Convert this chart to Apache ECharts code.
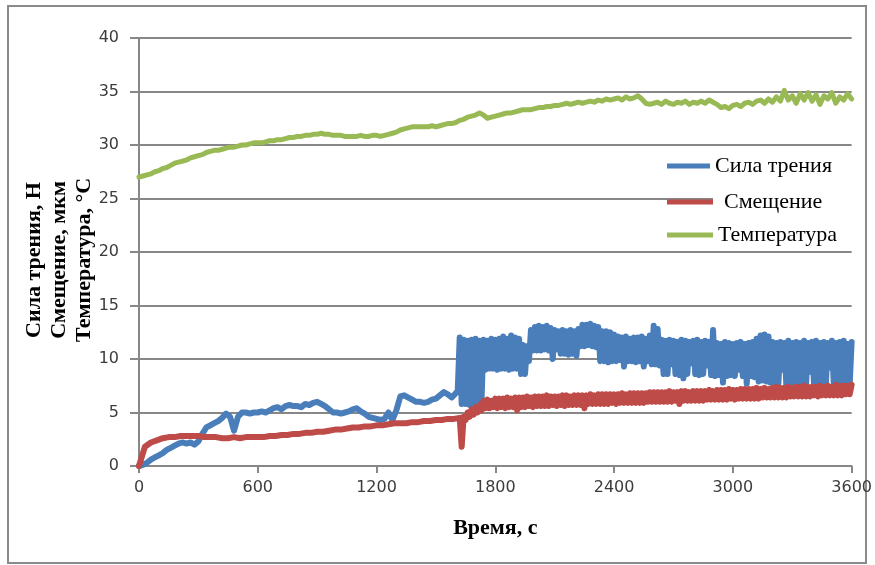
<!DOCTYPE html>
<html><head><meta charset="utf-8">
<script src="https://cdn.jsdelivr.net/npm/echarts@6/dist/echarts.min.js"></script>
<style>html,body{margin:0;padding:0;background:#fff}#c{width:875px;height:565px}</style>
</head><body><div id="c"></div>
<script>
const seriesNames = ['Сила трения', 'Смещение', 'Температура'];
const xTitle = 'Время, с';
const yTitle = 'Сила трения, Н\nСмещение, мкм\nТемпература, °С';

// Сила трения (N): 0..1600 s every 20 s
const forceEarlyStart = 0, forceEarlyStep = 20;
const forceEarly = [
  0.0, 0.1, 0.3, 0.6, 0.8, 1.0, 1.2, 1.5, 1.7, 1.9,
  2.1, 2.2, 2.1, 2.2, 2.0, 2.3, 3.0, 3.6, 3.8, 4.0,
  4.2, 4.5, 4.9, 4.6, 3.3, 4.6, 5.0, 5.0, 4.9, 5.0,
  5.0, 5.1, 5.0, 5.2, 5.4, 5.5, 5.3, 5.6, 5.7, 5.6,
  5.6, 5.5, 5.8, 5.7, 5.9, 6.0, 5.8, 5.6, 5.3, 5.0,
  5.0, 4.9, 5.0, 5.1, 5.3, 5.4, 5.1, 4.9, 4.6, 4.5,
  4.4, 4.3, 4.4, 5.0, 4.3, 5.2, 6.5, 6.6, 6.4, 6.2,
  6.0, 6.0, 5.9, 6.0, 6.2, 6.3, 6.6, 6.9, 6.7, 6.4,
  6.8
];
// Сила трения (N): 1610..3600 s every 10 s (noisy band: low / high readings)
const forceLateStart = 1610, forceLateStep = 10;
const forceLate = [
  7.0, 12.0, 5.8, 11.8, 5.8, 11.7, 5.7, 11.8, 5.8, 11.9,
  5.8, 11.7, 5.9, 11.8, 9.0, 11.7, 9.1, 11.9, 9.1, 11.8,
  9.0, 11.9, 9.1, 12.1, 9.1, 11.9, 9.0, 12.2, 9.1, 12.0,
  9.1, 11.9, 8.6, 11.3, 8.6, 11.2, 9.8, 12.7, 10.8, 13.0,
  10.8, 13.1, 10.8, 13.0, 10.9, 13.1, 10.8, 12.9, 10.0, 12.7,
  10.9, 12.6, 10.5, 12.7, 10.5, 12.6, 10.4, 12.7, 10.5, 12.6,
  10.3, 12.8, 11.2, 13.2, 11.2, 13.2, 11.3, 13.3, 11.2, 13.1,
  11.1, 13.0, 9.8, 12.6, 9.8, 12.6, 9.7, 12.5, 9.8, 12.3,
  9.8, 12.1, 9.9, 12.0, 9.3, 12.1, 9.8, 11.9, 9.8, 12.0,
  9.7, 12.0, 9.8, 12.1, 9.3, 11.9, 9.8, 12.2, 9.5, 13.1,
  9.5, 12.8, 9.4, 11.8, 8.6, 11.7, 8.6, 11.8, 9.5, 11.7,
  8.6, 11.6, 8.5, 11.8, 8.2, 11.7, 8.6, 11.6, 9.6, 11.7,
  8.6, 11.8, 8.5, 11.6, 8.6, 11.7, 9.4, 11.6, 8.5, 12.7,
  8.4, 11.5, 8.5, 11.4, 7.8, 11.6, 8.4, 11.5, 8.5, 11.4,
  8.4, 11.5, 9.0, 11.6, 8.4, 11.4, 7.7, 11.5, 8.4, 11.6,
  8.3, 11.9, 7.9, 12.2, 8.0, 12.3, 7.9, 12.1, 7.8, 11.6,
  7.7, 11.5, 7.7, 11.6, 9.0, 11.5, 7.6, 11.7, 7.6, 11.5,
  7.7, 11.6, 7.4, 11.5, 7.7, 11.7, 7.7, 11.5, 8.8, 11.6,
  7.6, 11.7, 7.6, 11.5, 7.5, 11.6, 7.7, 11.5, 9.2, 11.7,
  7.6, 11.5, 7.5, 11.6, 7.6, 11.7, 7.5, 11.4, 7.6, 11.6
];

// Смещение (µm): 0..1620 s every 30 s
const shiftEarlyStart = 0, shiftEarlyStep = 30;
const shiftEarly = [
  0.0, 1.8, 2.2, 2.4, 2.6, 2.7, 2.7, 2.8, 2.8, 2.8,
  2.8, 2.7, 2.7, 2.7, 2.6, 2.6, 2.7, 2.6, 2.7, 2.7,
  2.7, 2.7, 2.8, 2.8, 2.9, 2.9, 3.0, 3.0, 3.1, 3.1,
  3.2, 3.2, 3.3, 3.4, 3.4, 3.5, 3.6, 3.6, 3.7, 3.7,
  3.8, 3.8, 3.9, 4.0, 4.0, 4.0, 4.1, 4.1, 4.2, 4.2,
  4.3, 4.3, 4.4, 4.4, 4.5
];
// Смещение (µm): 1630..3600 s every 10 s (low / high readings)
const shiftLateStart = 1630, shiftLateStep = 10;
const shiftLate = [
  1.8, 4.6, 4.3, 5.0, 4.6, 5.3, 4.8, 5.5, 5.0, 5.7,
  5.2, 6.1, 5.4, 6.2, 5.4, 6.1, 5.5, 6.3, 5.4, 6.3,
  5.5, 6.3, 5.4, 6.4, 5.5, 6.3, 5.5, 6.4, 5.2, 6.4,
  5.5, 6.4, 5.5, 6.5, 5.6, 6.4, 5.5, 6.5, 5.6, 6.5,
  5.6, 6.5, 5.6, 6.6, 5.6, 6.5, 5.7, 6.5, 5.6, 6.5,
  5.7, 6.6, 5.6, 6.6, 5.7, 6.5, 5.7, 6.6, 5.7, 6.6,
  5.7, 6.6, 5.4, 6.6, 5.8, 6.7, 5.8, 6.6, 5.8, 6.7,
  5.8, 6.7, 5.8, 6.7, 5.8, 6.7, 5.9, 6.7, 5.8, 6.7,
  5.9, 6.8, 5.9, 6.7, 5.9, 6.8, 5.9, 6.8, 5.9, 6.8,
  5.9, 6.8, 5.9, 6.8, 6.0, 6.9, 6.0, 6.9, 6.0, 6.9,
  6.0, 6.9, 6.0, 6.9, 6.0, 7.0, 6.0, 6.9, 6.1, 6.9,
  5.8, 7.0, 6.1, 7.0, 6.1, 6.9, 6.1, 7.0, 6.1, 7.0,
  6.1, 7.0, 6.1, 7.0, 6.2, 7.1, 6.2, 7.0, 6.2, 7.1,
  6.2, 7.1, 6.2, 7.1, 6.2, 7.2, 6.3, 7.1, 6.2, 7.1,
  6.3, 7.2, 6.3, 7.2, 6.3, 7.2, 6.3, 7.2, 6.3, 7.3,
  6.3, 7.2, 6.4, 7.3, 6.4, 7.2, 6.4, 7.3, 6.4, 7.4,
  6.4, 7.3, 6.4, 7.3, 6.4, 7.4, 6.5, 7.3, 6.5, 7.4,
  6.5, 7.4, 6.5, 7.5, 6.5, 7.4, 6.5, 7.4, 6.6, 7.4,
  6.5, 7.5, 6.6, 7.4, 6.6, 7.5, 6.6, 7.4, 6.6, 7.6,
  6.6, 7.5, 6.6, 7.5, 6.7, 7.5, 6.7, 7.6
];

// Температура (°C): 0..3600 s every 20 s
const tempStart = 0, tempStep = 20;
const temperature = [
  27.0, 27.1, 27.2, 27.3, 27.5, 27.6, 27.8, 27.9, 28.1, 28.3,
  28.4, 28.5, 28.6, 28.8, 28.9, 29.0, 29.1, 29.3, 29.4, 29.5,
  29.5, 29.6, 29.7, 29.8, 29.8, 29.9, 30.0, 30.0, 30.1, 30.2,
  30.2, 30.2, 30.3, 30.4, 30.4, 30.5, 30.5, 30.6, 30.7, 30.7,
  30.8, 30.8, 30.9, 30.9, 31.0, 31.0, 31.1, 31.0, 31.0, 30.9,
  30.9, 30.9, 30.8, 30.8, 30.8, 30.8, 30.9, 30.8, 30.8, 30.9,
  30.9, 30.8, 30.9, 31.0, 31.1, 31.2, 31.4, 31.5, 31.6, 31.7,
  31.7, 31.7, 31.7, 31.7, 31.8, 31.7, 31.8, 31.9, 32.0, 32.0,
  32.1, 32.3, 32.4, 32.6, 32.7, 32.8, 33.0, 32.8, 32.5, 32.6,
  32.7, 32.8, 32.9, 33.0, 33.0, 33.1, 33.2, 33.3, 33.3, 33.3,
  33.4, 33.5, 33.5, 33.6, 33.6, 33.7, 33.7, 33.8, 33.9, 33.8,
  33.9, 34.0, 33.9, 34.0, 34.1, 34.0, 34.2, 34.1, 34.3, 34.2,
  34.3, 34.4, 34.2, 34.5, 34.3, 34.4, 34.6, 34.3, 33.9, 33.8,
  33.9, 34.0, 33.8, 34.1, 33.9, 33.8, 34.0, 33.9, 34.1, 33.8,
  34.0, 33.9, 34.1, 33.9, 34.2, 34.0, 33.8, 33.5, 33.6, 33.4,
  33.7, 33.8, 33.6, 33.9, 34.0, 33.8, 34.1, 34.2, 33.9, 34.3,
  34.0, 34.5, 34.1, 35.1, 34.2, 34.6, 33.9, 34.8, 34.2, 34.9,
  34.1, 34.7, 33.8, 34.6, 34.3, 34.9, 33.9, 34.5, 34.2, 34.8,
  34.3
];

const xMin = 0, xMax = 3600, xInterval = 600;
const yMin = 0, yMax = 40, yInterval = 5;

const colors = ['#4a7ebb', '#be4b48', '#98b954'];

function pairs(start, step, vals) { return vals.map((v, i) => [start + i * step, v]); }
// envelope between consecutive readings of a noisy record: [t, low, high]
function envelope(start, step, vals) {
  const out = [];
  for (let i = 0; i < vals.length - 1; i++) {
    out.push([start + i * step, Math.min(vals[i], vals[i + 1]), Math.max(vals[i], vals[i + 1])]);
  }
  return out;
}

const forceData = pairs(forceEarlyStart, forceEarlyStep, forceEarly).concat(pairs(forceLateStart, forceLateStep, forceLate));
const shiftData = pairs(shiftEarlyStart, shiftEarlyStep, shiftEarly).concat(pairs(shiftLateStart, shiftLateStep, shiftLate));
const tempData = pairs(tempStart, tempStep, temperature);
const forceBand = envelope(forceLateStart, forceLateStep, forceLate);
const shiftBand = envelope(shiftLateStart, shiftLateStep, shiftLate);

const axisGray = '#878787';
const labelColor = '#3c3c3c';
const tickFont = { fontFamily: 'DejaVu Sans', fontSize: 16, color: labelColor, formatter: v => String(v) };
const serif = 'Liberation Serif';

function lineSeries(name, data, color, width) {
  return {
    name, type: 'line', data, symbol: 'none', showSymbol: false,
    animation: false, smooth: false,
    lineStyle: { color, width, join: 'round', cap: 'round' },
    itemStyle: { color }
  };
}
function bandSeries(name, data, color, step) {
  return {
    name, type: 'custom', data, animation: false,
    itemStyle: { color },
    encode: { x: 0, y: [1, 2] },
    renderItem: (params, api) => {
      const p0 = api.coord([api.value(0), api.value(2)]);
      const p1 = api.coord([api.value(0) + step, api.value(1)]);
      return {
        type: 'rect',
        shape: { x: p0[0] - 0.5, y: p0[1], width: p1[0] - p0[0] + 1, height: p1[1] - p0[1] },
        style: { fill: color }
      };
    }
  };
}

function legendFor(name, top, itemWidth, padLeft) {
  return {
    data: [name], left: 667, top, padding: 0, orient: 'vertical',
    icon: 'rect', itemWidth, itemHeight: 5, itemGap: 0,
    itemStyle: { color: colors[seriesNames.indexOf(name)] },
    textStyle: { fontFamily: serif, fontSize: 22, color: '#000', padding: [0, 0, 0, padLeft] },
    z: 6
  };
}

const chart = echarts.init(document.getElementById('c'), null, { renderer: 'canvas' });
chart.setOption({
  animation: false,
  backgroundColor: '#fff',
  color: colors,
  grid: { left: 139, right: 23, top: 38, bottom: 99, containLabel: false },
  xAxis: {
    type: 'value', min: xMin, max: xMax, interval: xInterval,
    name: xTitle, nameLocation: 'middle', nameGap: 51,
    nameTextStyle: { fontFamily: serif, fontSize: 22, fontWeight: 'bold', color: '#000' },
    axisLine: { show: true, lineStyle: { color: axisGray, width: 2 } },
    axisTick: { show: true, length: 7, lineStyle: { color: axisGray, width: 2 } },
    axisLabel: Object.assign({ margin: 14 }, tickFont),
    splitLine: { show: false }
  },
  yAxis: {
    type: 'value', min: yMin, max: yMax, interval: yInterval,
    name: yTitle, nameLocation: 'middle', nameGap: 42, nameRotate: 90, nameMoveOverlap: false,
    nameTextStyle: { fontFamily: serif, fontSize: 22, fontWeight: 'bold', color: '#000', lineHeight: 25, padding: [0, 16, 0, 0] },
    axisLine: { show: true, lineStyle: { color: axisGray, width: 2 } },
    axisTick: { show: true, length: 9, lineStyle: { color: axisGray, width: 2 } },
    axisLabel: Object.assign({ margin: 20 }, tickFont),
    splitLine: { show: true, lineStyle: { color: axisGray, width: 2 } }
  },
  legend: [
    legendFor(seriesNames[0], 155, 43, 0),
    legendFor(seriesNames[1], 191, 46, 6),
    legendFor(seriesNames[2], 224, 46, 0)
  ],
  graphic: [
    { type: 'rect', z: 0, silent: true, shape: { x: 8, y: 6, width: 858, height: 557 },
      style: { fill: 'none', stroke: '#8a8a8a', lineWidth: 2 } },
    { type: 'rect', z: 5, silent: true, shape: { x: 713, y: 150, width: 139, height: 98 },
      style: { fill: '#fff' } }
  ],
  series: [
    bandSeries(seriesNames[0], forceBand, colors[0], forceLateStep),
    lineSeries(seriesNames[0], forceData, colors[0], 6),
    bandSeries(seriesNames[1], shiftBand, colors[1], shiftLateStep),
    lineSeries(seriesNames[1], shiftData, colors[1], 6),
    lineSeries(seriesNames[2], tempData, colors[2], 5)
  ]
});
</script></body></html>
